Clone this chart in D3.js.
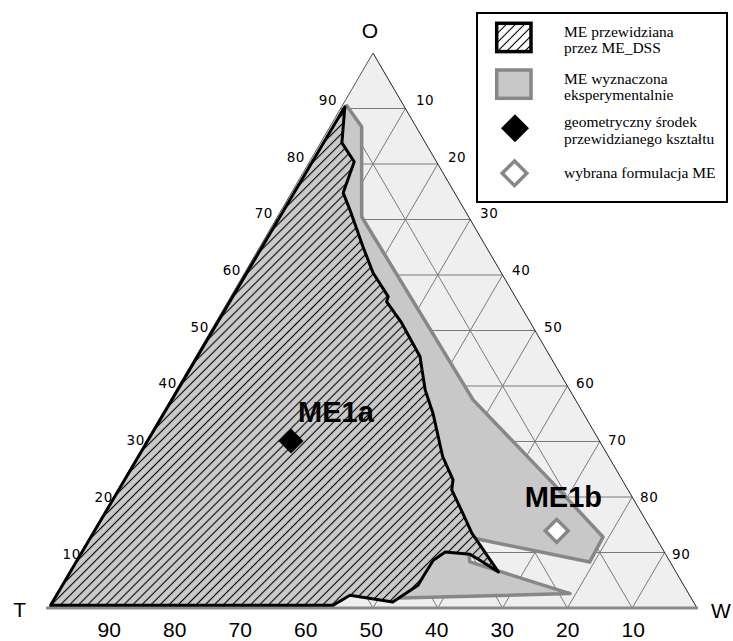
<!DOCTYPE html>
<html>
<head>
<meta charset="utf-8">
<script src="https://cdn.jsdelivr.net/npm/d3@7"></script>
<style>
  body { margin: 0; background: #fff; }
  svg { display: block; }
</style>
</head>
<body>
<svg id="chart" width="733" height="641"></svg>
<script>
// Ternary diagram O / W / T (percent). Each point is given as (O, W); T = 100 - O - W.
const gridValues = [10, 20, 30, 40, 50, 60, 70, 80, 90];
const oTickLabels = ["10", "20", "30", "40", "50", "60", "70", "80", "90"];
const wTickLabels = ["10", "20", "30", "40", "50", "60", "70", "80", "90"];
const tTickLabels = ["10", "20", "30", "40", "50", "60", "70", "80", "90"];
const cornerNames = ["O", "T", "W"];

// Region predicted by ME_DSS (hatched)
const predictedO = [0.5, 90.3, 83.8, 80.4, 74.8, 71.7, 65.1, 60.4, 56.1, 55.2, 51.4, 45.3, 39.3, 35.1, 27.3, 23.1, 21.3, 17.1, 13.5, 6.5, 8.6, 9.7, 10.1, 8.6, 5.6, 4.1, 1.1, 2.3, 0.5];
const predictedW = [0.0, 0.5, 3.3, 6.9, 8.0, 10.6, 15.9, 19.8, 24.3, 24.5, 28.7, 34.6, 38.4, 41.7, 47.1, 50.8, 51.5, 55.3, 58.5, 66.1, 62.2, 60.1, 56.1, 55.0, 54.9, 54.9, 52.5, 45.3, 43.6];

// Region determined experimentally (grey)
const measuredO = [90.5, 86.7, 70.5, 37.5, 22.5, 12.8, 8.3, 12.6, 12.8, 8.3, 2.6, 1.8, 8.6, 73.5, 88.8];
const measuredW = [0.7, 4.9, 13.0, 46.7, 66.5, 79.1, 79.3, 59.1, 58.1, 60.8, 79.1, 53.3, 34.4, 6.6, 0.5];

// Geometric centre of the predicted shape, and the chosen formulation
const markerNames = ["ME1a", "ME1b"];
const markerO = [30.1, 13.9];
const markerW = [22.3, 71.4];

const legendLabels = [
  ["ME przewidziana", "przez ME_DSS"],
  ["ME wyznaczona", "eksperymentalnie"],
  ["geometryczny środek", "przewidzianego kształtu"],
  ["wybrana formulacja ME"]
];

const svg = d3.select("#chart");

// Scales: O runs up the height, W runs along the base
const yO = d3.scaleLinear().domain([0, 100]).range([608, 53]);
const xB = d3.scaleLinear().domain([0, 100]).range([49, 697]);
const pt = (o, w) => [xB(w + o / 2), yO(o)];

const line = d3.line();
const closed = d3.line().curve(d3.curveLinearClosed);

// Patterns
const defs = svg.append("defs");
function hatch(id, bg) {
  const p = defs.append("pattern")
    .attr("id", id)
    .attr("patternUnits", "userSpaceOnUse")
    .attr("width", 6.4).attr("height", 6.4)
    .attr("patternTransform", "rotate(45)");
  p.append("rect").attr("width", 6.4).attr("height", 6.4).attr("fill", bg);
  p.append("line").attr("x1", 3.2).attr("y1", 0).attr("x2", 3.2).attr("y2", 6.4)
    .attr("stroke", "#000").attr("stroke-width", 1.1);
}
hatch("hatchArea", "#cacaca");
hatch("hatchKey", "#ffffff");

// Triangle background
const corners = [pt(100, 0), pt(0, 0), pt(0, 100)];
svg.append("path").attr("d", closed(corners)).attr("fill", "#efefef");

// Grid
const grid = svg.append("g").attr("stroke", "#7a7a7a").attr("stroke-width", 1).attr("fill", "none");
gridValues.forEach(v => {
  grid.append("path").attr("d", line([pt(v, 0), pt(v, 100 - v)]));          // constant O
  grid.append("path").attr("d", line([pt(0, v), pt(100 - v, v)]));          // constant W
  grid.append("path").attr("d", line([pt(0, 100 - v), pt(100 - v, 0)]));    // constant T
});

// Triangle outline
svg.append("path").attr("d", line([pt(100, 0), pt(0, 100)]))
  .attr("stroke", "#222").attr("stroke-width", 1).attr("fill", "none");
svg.append("path").attr("d", line([pt(100, 0), pt(0, 0)]))
  .attr("stroke", "#555").attr("stroke-width", 1).attr("fill", "none");
svg.append("path").attr("d", line([[xB(0) - 3, yO(0)], [xB(100) + 1, yO(0)]]))
  .attr("stroke", "#8a8a8a").attr("stroke-width", 3).attr("fill", "none");

// Experimental region
svg.append("path")
  .attr("d", closed(measuredO.map((o, i) => pt(o, measuredW[i]))))
  .attr("fill", "#c8c8c8").attr("stroke", "#878787").attr("stroke-width", 3.5)
  .attr("stroke-linejoin", "round");

// Predicted region
svg.append("path")
  .attr("d", closed(predictedO.map((o, i) => pt(o, predictedW[i]))))
  .attr("fill", "url(#hatchArea)").attr("stroke", "#000").attr("stroke-width", 3)
  .attr("stroke-linejoin", "round");

// Markers
const diamond = r => d3.symbol().type(d3.symbolSquare).size(2 * r * r)();
const p1 = pt(markerO[0], markerW[0]);
const p2 = pt(markerO[1], markerW[1]);
svg.append("path").attr("d", diamond(12.5))
  .attr("transform", `translate(${p1[0]},${p1[1]}) rotate(45)`).attr("fill", "#000");
svg.append("path").attr("d", diamond(11.5))
  .attr("transform", `translate(${p2[0]},${p2[1]}) rotate(45)`)
  .attr("fill", "#fff").attr("stroke", "#878787").attr("stroke-width", 3.5);

const markerText = svg.append("g")
  .attr("font-family", "'Liberation Sans', Arial, sans-serif")
  .attr("font-weight", "bold").attr("font-size", 29).attr("fill", "#000");
markerText.append("text").attr("x", p1[0] + 7).attr("y", p1[1] - 19).text(markerNames[0]);
markerText.append("text").attr("x", p2[0] - 32).attr("y", p2[1] - 24).text(markerNames[1]);

// Side tick labels
const sideFont = svg.append("g")
  .attr("font-family", "'DejaVu Sans', sans-serif").attr("font-size", 13.5)
  .attr("letter-spacing", 0.6).attr("fill", "#000");
const labelY = d3.scaleLinear().domain([10, 90]).range([yO(10) + 6, yO(90) - 3.5]);
const leftX = d3.scaleLinear().domain([10, 90]).range([pt(10, 0)[0] - 0.5, pt(90, 0)[0] - 3.5]);
const rightX = d3.scaleLinear().domain([10, 90]).range([pt(90, 10)[0] + 10.5, pt(10, 90)[0] + 7.5]);
gridValues.forEach((v, i) => {
  sideFont.append("text").attr("text-anchor", "end")
    .attr("x", leftX(v)).attr("y", labelY(v)).text(oTickLabels[i]);
  sideFont.append("text").attr("text-anchor", "start")
    .attr("x", rightX(v)).attr("y", labelY(100 - v)).text(wTickLabels[i]);
});

// Bottom tick labels (T)
const bottomX = d3.scaleLinear().domain([10, 90]).range([pt(0, 90)[0] + 1.1, pt(0, 10)[0] - 4.6]);
const bottomFont = svg.append("g")
  .attr("font-family", "'Liberation Sans', Arial, sans-serif").attr("font-size", 21)
  .attr("text-anchor", "middle").attr("fill", "#000");
gridValues.forEach((v, i) => {
  bottomFont.append("text").attr("x", bottomX(v)).attr("y", yO(0) + 29).text(tTickLabels[i]);
});

// Corner names
const cornerFont = svg.append("g")
  .attr("font-family", "'Liberation Sans', Arial, sans-serif").attr("font-size", 21).attr("fill", "#000");
cornerFont.append("text").attr("x", corners[0][0] - 3).attr("y", corners[0][1] - 15)
  .attr("text-anchor", "middle").text(cornerNames[0]);
cornerFont.append("text").attr("x", corners[1][0] - 23).attr("y", corners[1][1] + 9)
  .attr("text-anchor", "end").text(cornerNames[1]);
cornerFont.append("text").attr("x", corners[2][0] + 14).attr("y", corners[2][1] + 10)
  .attr("text-anchor", "start").text(cornerNames[2]);

// Legend
const legend = svg.append("g").attr("transform", "translate(477,13)");
legend.append("rect").attr("width", 250).attr("height", 189)
  .attr("fill", "#fff").attr("stroke", "#000").attr("stroke-width", 2);
legend.append("rect").attr("x", 19.7).attr("y", 10.3).attr("width", 34.3).attr("height", 28.3)
  .attr("fill", "url(#hatchKey)").attr("stroke", "#000").attr("stroke-width", 3.5);
legend.append("rect").attr("x", 19.7).attr("y", 57).attr("width", 34.3).attr("height", 28.3)
  .attr("fill", "#c8c8c8").attr("stroke", "#878787").attr("stroke-width", 3.5);
legend.append("path").attr("d", diamond(14))
  .attr("transform", "translate(38,115.3) rotate(45)").attr("fill", "#000");
legend.append("path").attr("d", diamond(12.3))
  .attr("transform", "translate(37.5,160.3) rotate(45)")
  .attr("fill", "#fff").attr("stroke", "#878787").attr("stroke-width", 3.5);

const legendBaselines = [[24, 40], [71, 87], [114, 131], [165]];
const legendText = legend.append("g")
  .attr("font-family", "'Liberation Serif', 'Times New Roman', serif")
  .attr("font-size", 15.5).attr("fill", "#000");
legendLabels.forEach((lines, i) => {
  lines.forEach((s, j) => {
    legendText.append("text").attr("x", 87).attr("y", legendBaselines[i][j]).text(s);
  });
});
</script>
</body>
</html>
